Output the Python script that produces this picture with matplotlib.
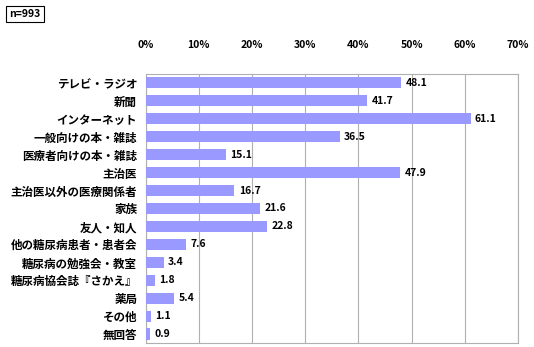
import matplotlib.pyplot as plt
import numpy as np

plt.rcParams['font.family'] = ['Noto Sans CJK JP', 'DejaVu Sans']

categories = ['テレビ・ラジオ', '新聞', 'インターネット', '一般向けの本・雑誌', '医療者向けの本・雑誌',
              '主治医', '主治医以外の医療関係者', '家族', '友人・知人', '他の糖尿病患者・患者会',
              '糖尿病の勉強会・教室', '糖尿病協会誌『さかえ』', '薬局', 'その他', '無回答']
values = [48.1, 41.7, 61.1, 36.5, 15.1, 47.9, 16.7, 21.6, 22.8, 7.6, 3.4, 1.8, 5.4, 1.1, 0.9]
xticks = [0, 10, 20, 30, 40, 50, 60, 70]

fig = plt.figure(figsize=(5.34, 3.47), dpi=100)
ax = fig.add_axes([0.2725, 0.0115, 0.6975, 0.7755])

y = np.arange(len(categories))
ax.barh(y, values, height=0.62, color='#9999FF', zorder=3)
for yi, v in zip(y, values):
    ax.text(v + 0.8, yi, f'{v:.1f}', va='center', ha='left', fontsize=7.5, fontweight='bold', zorder=4)

ax.set_xlim(0, 70)
ax.set_ylim(len(categories) - 0.5, -0.5)
ax.set_yticks(y)
ax.set_yticklabels(categories, fontsize=8.3, fontweight='bold')
ax.set_xticks(xticks)
ax.set_xticklabels([f'{t}%' for t in xticks], fontsize=7.5, fontweight='bold')
ax.xaxis.tick_top()
ax.tick_params(axis='y', length=0, pad=6)
ax.tick_params(axis='x', length=0, pad=17)
ax.grid(axis='x', color='#B0B0B0', linewidth=0.8, zorder=0)
for s in ax.spines.values():
    s.set_color('#B0B0B0')
    s.set_linewidth(0.8)

fig.text(0.018, 0.96, 'n=993', fontsize=7.5, fontweight='bold', va='center', ha='left',
         bbox=dict(boxstyle='square,pad=0.3', facecolor='white', edgecolor='black', linewidth=0.8))

fig.savefig('out.png', dpi=100)
